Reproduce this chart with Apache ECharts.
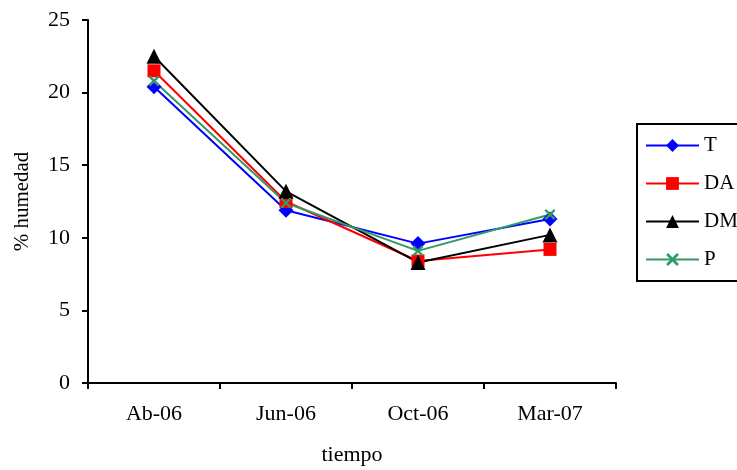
<!DOCTYPE html>
<html>
<head>
<meta charset="utf-8">
<script src="https://cdn.jsdelivr.net/npm/echarts@6/dist/echarts.min.js"></script>
<style>html,body{margin:0;padding:0;background:#fff}#c{width:737px;height:470px}</style>
</head>
<body>
<div id="c"></div>
<script>
var categories = ['Ab-06', 'Jun-06', 'Oct-06', 'Mar-07'];
var seriesNames = ['T', 'DA', 'DM', 'P'];
var valuesT = [20.4, 11.9, 9.6, 11.3];
var valuesDA = [21.5, 12.5, 8.4, 9.2];
var valuesDM = [22.5, 13.2, 8.3, 10.2];
var valuesP = [20.8, 12.4, 9.1, 11.6];
var yTicks = [0, 5, 10, 15, 20, 25];

var FONT = '"Liberation Serif", "Times New Roman", serif';
var xPath = 'path://M0,1.5L1.5,0L5,3.5L8.5,0L10,1.5L6.5,5L10,8.5L8.5,10L5,6.5L1.5,10L0,8.5L3.5,5Z';

function mk(name, data, color, symbol, size) {
  return {
    name: name, type: 'line', data: data,
    symbol: symbol, symbolSize: size,
    lineStyle: {color: color, width: 2},
    itemStyle: {color: color},
    showAllSymbol: true,
    animation: false,
    z: 2
  };
}

var chart = echarts.init(document.getElementById('c'), null, {renderer: 'canvas'});
chart.setOption({
  backgroundColor: '#fff',
  animation: false,
  grid: {left: 88, right: 121, top: 20, bottom: 87, containLabel: false, outerBoundsMode: 'none'},
  legend: {
    orient: 'vertical',
    left: 637, top: 124,
    data: seriesNames,
    itemWidth: 53, itemHeight: 16, itemGap: 17,
    padding: [11, 40, 11, 8],
    borderColor: '#000', borderWidth: 2,
    textStyle: {fontFamily: FONT, fontSize: 21, color: '#000'}
  },
  xAxis: {
    type: 'category', data: categories, boundaryGap: true,
    name: 'tiempo', nameLocation: 'middle', nameGap: 61,
    nameTextStyle: {fontFamily: FONT, fontSize: 22, color: '#000'},
    axisLine: {lineStyle: {color: '#000', width: 2}},
    axisTick: {show: true, inside: false, length: 6, lineStyle: {color: '#000', width: 2}},
    axisLabel: {fontFamily: FONT, fontSize: 22, color: '#000', margin: 20},
    splitLine: {show: false}
  },
  yAxis: {
    type: 'value', min: 0, max: 25, interval: 5,
    name: '% humedad', nameLocation: 'middle', nameGap: 55, nameRotate: 90,
    nameTextStyle: {fontFamily: FONT, fontSize: 21, color: '#000'},
    axisLine: {show: true, lineStyle: {color: '#000', width: 2}},
    axisTick: {show: true, inside: false, length: 6, lineStyle: {color: '#000', width: 2}},
    axisLabel: {fontFamily: FONT, fontSize: 22, color: '#000', margin: 18,
      formatter: function (v) { return yTicks.indexOf(v) >= 0 ? String(v) : ''; }},
    splitLine: {show: false}
  },
  series: [
    mk('T', valuesT, '#0000FF', 'diamond', 15),
    mk('DA', valuesDA, '#FF0000', 'rect', 13),
    mk('DM', valuesDM, '#000000', 'triangle', 15),
    mk('P', valuesP, '#339966', xPath, 11)
  ]
});
</script>
</body>
</html>
